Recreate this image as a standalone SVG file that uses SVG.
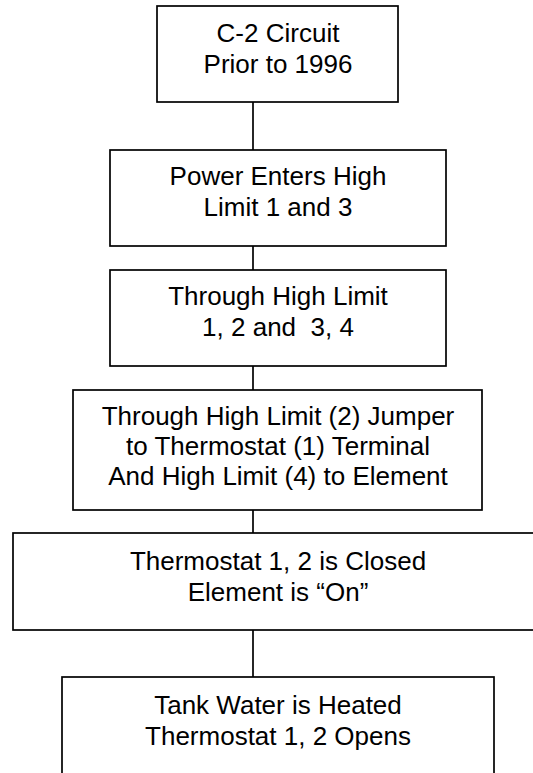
<svg xmlns="http://www.w3.org/2000/svg" width="533" height="773" viewBox="0 0 533 773">
<style>
.box{fill:#fff;stroke:#000;stroke-width:1.7}
.con{stroke:#000;stroke-width:1.7;fill:none}
text{font-family:"Liberation Sans",Arial,sans-serif;font-size:26px;fill:#000;text-anchor:middle}
</style>
<rect width="533" height="773" fill="#fff"/>
<g id="connectors">
<line class="con" x1="253" y1="102" x2="253" y2="150"/>
<line class="con" x1="253" y1="246" x2="253" y2="270"/>
<line class="con" x1="253" y1="366" x2="253" y2="390"/>
<line class="con" x1="253" y1="510" x2="253" y2="533"/>
<line class="con" x1="253" y1="630" x2="253" y2="677"/>
</g>
<g id="n1">
<rect class="box" x="157" y="6" width="241" height="96"/>
<text x="278" y="42">C-2 Circuit</text>
<text x="278" y="73">Prior to 1996</text>
</g>
<g id="n2">
<rect class="box" x="110" y="150" width="336" height="96"/>
<text x="278" y="185">Power Enters High</text>
<text x="278" y="216">Limit 1 and 3</text>
</g>
<g id="n3">
<rect class="box" x="110" y="270" width="336" height="96"/>
<text x="278" y="305">Through High Limit</text>
<text x="278" y="336" xml:space="preserve">1, 2 and  3, 4</text>
</g>
<g id="n4">
<rect class="box" x="73" y="390" width="409" height="120"/>
<text x="278" y="425">Through High Limit (2) Jumper</text>
<text x="278" y="455">to Thermostat (1) Terminal</text>
<text x="278" y="485">And High Limit (4) to Element</text>
</g>
<g id="n5">
<rect class="box" x="13" y="533" width="532" height="97"/>
<text x="278" y="570">Thermostat 1, 2 is Closed</text>
<text x="278" y="601">Element is “On”</text>
</g>
<g id="n6">
<rect class="box" x="62" y="677" width="432" height="120"/>
<text x="278" y="714">Tank Water is Heated</text>
<text x="278" y="745">Thermostat 1, 2 Opens</text>
</g>
</svg>
